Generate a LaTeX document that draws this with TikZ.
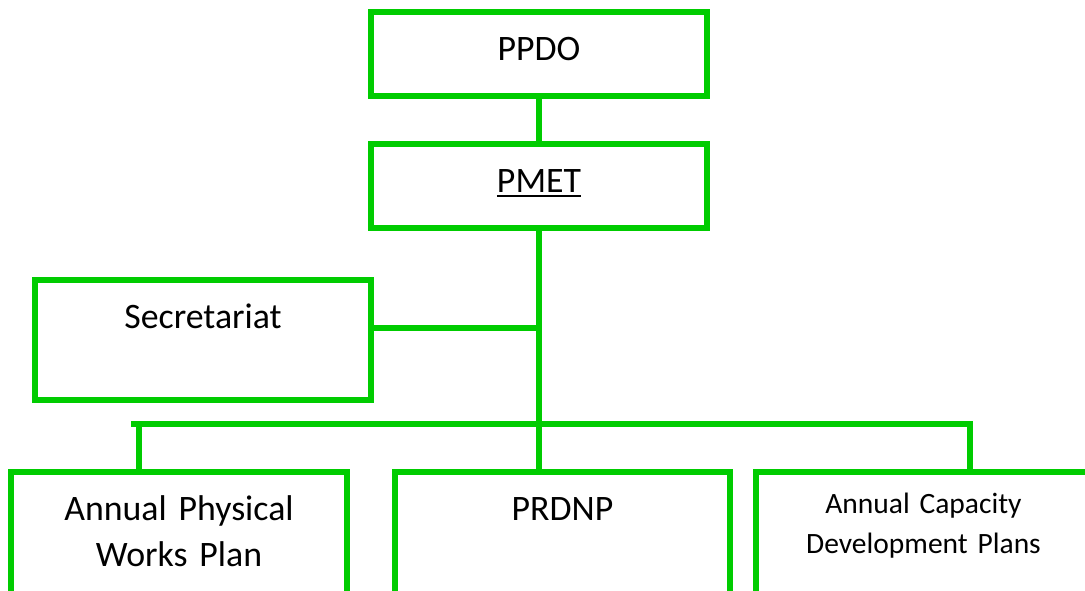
\documentclass[tikz,border=0pt]{standalone}
\usepackage{fontspec}
\setmainfont{Carlito}
\usetikzlibrary{calc}

\definecolor{boxgreen}{RGB}{0,204,0}
% thick underline below the baseline
\newcommand{\thickul}[1]{\setbox0=\hbox{#1}\rlap{\raisebox{-2.6pt}{\rule{\wd0}{1.3pt}}}\box0}

\begin{document}
\begin{tikzpicture}[x=0.5pt,y=-0.5pt,
    box/.style={rectangle, draw=boxgreen, line width=2.75pt, inner sep=0pt, outer sep=0pt, minimum width=168pt},
    lblbase/.style={anchor=base, text width=160pt, align=center, inner sep=0pt},
    lbl/.style={lblbase, yshift=-24pt, font=\fontsize{17.9}{23}\selectfont},
    lblsmall/.style={lblbase, yshift=-20.5pt, font=\fontsize{14.75}{20}\selectfont},
    link/.style={draw=boxgreen, line width=2.75pt}]
    \clip (0,0) rectangle (1085,590);

    % Top boxes
    \draw (539,54) node[box, minimum height=42pt] (PPDO) [label={[lbl]north:PPDO}] {};
    \draw (539,186) node[box, minimum height=42pt] (PMET) [label={[lbl]north:\thickul{PMET}}] {};
    \draw (203,340) node[box, minimum height=60pt] (Sec) [label={[lbl]north:Secretariat}] {};

    % Bottom boxes (cut off by the page edge)
    \draw (179,551) node[box, minimum height=79pt] (AWP) [label={[lbl]north:Annual Physical\\Works Plan}] {};
    \draw (562.5,551) node[box, minimum height=79pt, minimum width=167.5pt] (PRDNP) [label={[lbl]north:PRDNP}] {};
    \draw (923.5,551) node[box, minimum height=79pt, minimum width=167.5pt] (ACDP) [label={[lblsmall]north:Annual Capacity\\Development Plans}] {};

    % Bus ends
    \coordinate (busL) at (131,424);
    \coordinate (busR) at (970,424);
    \coordinate (dropL) at (139,421);

    % Links
    \draw[link] (PPDO.south) -- (PMET.north);
    \draw[link] (PMET.south) -- (PMET.south |- PRDNP.north);
    \draw[link] ([yshift=6pt]Sec.east) -- ([yshift=6pt]Sec.east -| PMET.south);
    \draw[link] (busL) -- (busR) -- (busR |- ACDP.north);
    \draw[link] (dropL) -- (dropL |- AWP.north);
\end{tikzpicture}
\end{document}
